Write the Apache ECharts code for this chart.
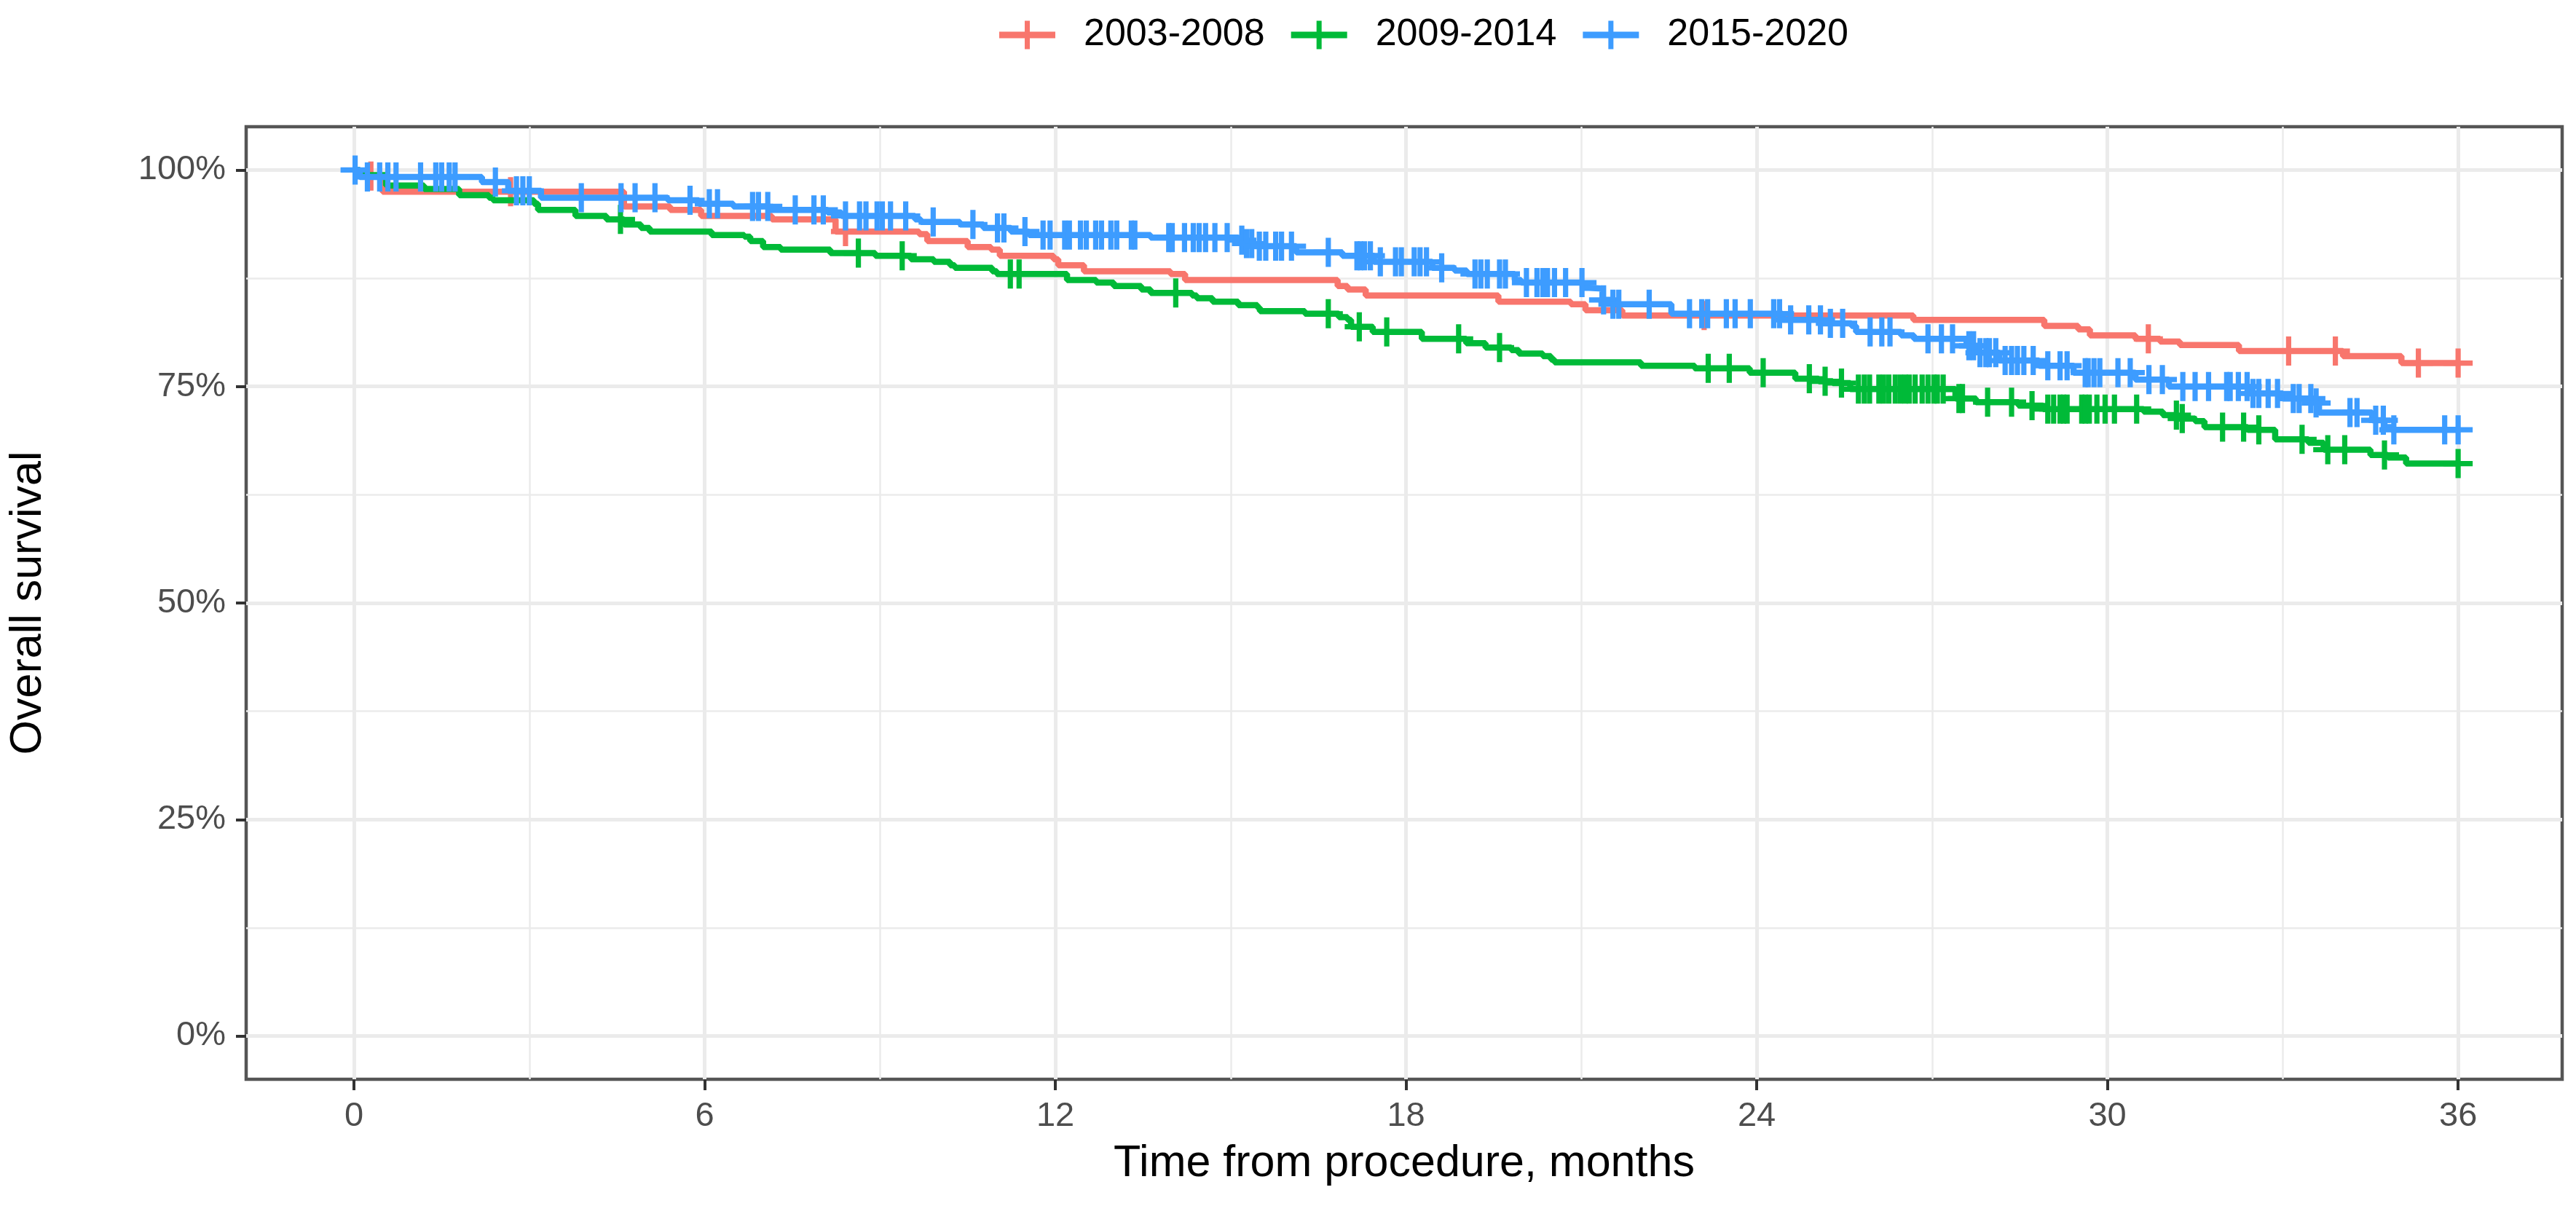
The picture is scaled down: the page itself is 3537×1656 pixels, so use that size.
<!DOCTYPE html>
<html><head><meta charset="utf-8">
<script src="https://cdn.jsdelivr.net/npm/echarts@6/dist/echarts.min.js"></script>
<style>html,body{margin:0;padding:0;background:#fff}#c{width:3537px;height:1656px}</style>
</head><body><div id="c"></div>
<script>
const seriesNames = ['2003-2008', '2009-2014', '2015-2020'];
const seriesColors = ['#F8766D', '#00BA38', '#3D9CFF'];
const xTicks = [0, 6, 12, 18, 24, 30, 36];
const xMinorTicks = [3, 9, 15, 21, 27, 33];
const yTicks = [0, 25, 50, 75, 100];
const yMinorTicks = [12.5, 37.5, 62.5, 87.5];

// [time in months, survival %]
const steps2003 = [[0,100],[0.1,99.3],[0.49,97.5],[4.62,95.8],[5.41,95.4],[5.94,94.7],[7.15,94.3],[8.24,92.9],[9.67,92.6],[9.81,91.8],[10.5,91.1],[10.9,90.8],[11.05,90.1],[11.97,89.7],[12.05,89.0],[12.49,88.3],[13.97,88.0],[14.22,87.3],[16.83,86.6],[17.0,86.2],[17.31,85.5],[19.58,84.8],[20.82,84.5],[21.07,83.8],[21.7,83.2],[26.68,82.7],[28.92,82.0],[29.5,81.6],[29.7,80.9],[30.48,80.5],[30.9,80.2],[31.24,79.8],[32.25,79.1],[34.03,78.5],[35.03,77.7],[36.0,77.7]];
const censor2003 = [0.29,2.68,8.41,23.1,30.7,33.1,33.9,35.32,36.0];

const steps2009 = [[0,100],[0.1,99.4],[0.55,98.2],[1.2,97.8],[1.8,97.1],[2.31,96.8],[2.38,96.5],[3.08,96.1],[3.15,95.4],[3.79,94.7],[4.32,94.3],[4.62,93.7],[4.91,93.3],[5.06,92.9],[6.12,92.5],[6.68,92.3],[6.78,91.8],[7.0,91.1],[7.3,90.8],[8.15,90.4],[8.92,90.1],[9.53,89.7],[9.92,89.4],[10.2,89.0],[10.28,88.7],[10.92,88.3],[11.0,88.0],[12.2,87.3],[12.7,87.0],[13.0,86.6],[13.47,86.2],[13.63,85.8],[14.34,85.5],[14.42,85.2],[14.69,84.8],[15.13,84.4],[15.46,84.1],[15.5,83.7],[16.27,83.4],[16.85,83.0],[17.0,82.7],[17.06,81.9],[17.43,81.3],[18.27,80.5],[19.03,80.0],[19.36,79.5],[19.8,79.2],[19.93,78.8],[20.34,78.5],[20.48,78.1],[20.54,77.8],[22.02,77.4],[22.94,77.1],[23.88,76.6],[24.66,75.9],[25.06,75.6],[25.3,75.4],[25.6,74.7],[27.4,73.6],[27.75,73.2],[28.48,72.8],[28.9,72.4],[30.62,72.1],[30.95,71.7],[31.2,71.3],[31.5,71.0],[31.66,70.3],[32.4,70.0],[32.87,68.9],[33.44,68.5],[33.7,67.7],[34.5,67.1],[34.8,66.8],[35.11,66.1],[36.0,66.1]];
const censor2009 = [4.56,8.63,9.38,11.23,11.38,14.06,16.67,17.2,17.67,18.9,19.6,23.17,23.53,24.11,24.9,25.17,25.45,25.74,25.84,25.93,26.09,26.17,26.26,26.37,26.46,26.54,26.61,26.71,26.83,26.93,27.03,27.09,27.19,27.46,27.52,27.95,28.36,28.71,28.98,29.08,29.19,29.25,29.31,29.56,29.62,29.69,29.82,29.96,30.12,30.5,31.18,31.28,31.97,32.33,32.59,33.33,33.77,34.06,34.74,36.0];

const steps2015 = [[0,100],[0.1,99.2],[2.19,98.6],[2.64,97.6],[3.2,96.8],[5.37,96.5],[5.9,96.1],[6.49,95.8],[7.11,95.4],[8.1,95.1],[8.34,94.7],[9.6,94.3],[9.7,94.0],[10.37,93.7],[10.77,93.3],[11.24,92.9],[11.55,92.5],[13.63,92.2],[15.13,91.9],[15.25,91.5],[15.41,91.2],[16.12,90.5],[16.91,90.1],[17.45,89.4],[18.45,88.7],[18.83,88.4],[19.04,88.0],[19.86,87.3],[19.97,87.0],[21.03,86.4],[21.13,86.3],[21.36,85.0],[21.52,84.5],[22.54,83.4],[24.44,82.7],[25.1,82.3],[25.62,82.0],[25.7,81.3],[26.47,80.9],[26.69,80.5],[27.59,79.7],[27.8,78.9],[28.15,78.0],[28.83,77.4],[29.42,76.6],[30.48,75.8],[31.05,75.0],[32.41,74.2],[33.0,73.6],[33.53,73.1],[33.62,72.0],[34.53,71.1],[34.74,70.3],[34.86,70.0],[36.0,70.0]];
const censor2015 = [0.02,0.23,0.44,0.58,0.72,1.14,1.4,1.5,1.63,1.73,2.42,2.78,2.89,3.0,3.89,4.57,4.81,5.15,5.75,6.08,6.22,6.82,6.92,7.08,7.55,7.87,8.03,8.41,8.65,8.76,8.95,9.04,9.18,9.44,9.91,10.59,11.01,11.12,11.48,11.79,11.91,12.16,12.24,12.43,12.53,12.69,12.79,12.95,13.05,13.3,13.36,13.94,14.0,14.21,14.36,14.46,14.57,14.73,14.94,15.19,15.27,15.36,15.49,15.6,15.77,15.87,16.04,16.67,17.16,17.22,17.29,17.39,17.56,17.82,17.92,18.14,18.24,18.35,18.61,19.18,19.28,19.39,19.6,19.7,20.06,20.24,20.34,20.42,20.54,20.73,21.01,21.38,21.54,21.64,22.16,22.85,23.06,23.16,23.48,23.63,23.89,24.29,24.39,24.58,24.89,25.09,25.26,25.47,25.94,26.14,26.28,26.93,27.16,27.35,27.63,27.71,27.82,27.92,27.98,28.09,28.25,28.36,28.46,28.57,28.73,28.98,29.19,29.31,29.62,29.67,29.77,29.87,30.18,30.39,30.71,30.94,31.29,31.5,31.73,32.04,32.1,32.24,32.39,32.49,32.59,32.75,32.91,33.18,33.28,33.48,33.57,34.15,34.27,34.59,34.72,34.9,35.77,36.0];

const allSteps = [steps2003, steps2009, steps2015];
const allCensors = [censor2003, censor2009, censor2015];

const FONT = '"Liberation Sans", Arial, sans-serif';
const plusPath = 'path://M16,0H23V16H39V23H23V39H16V23H0V16H16Z';
const legendPath = 'path://M0,15H35V0H42V15H77V24H42V39H35V24H0Z';

function survAt(steps, t) {
  let v = steps[0][1];
  for (const p of steps) { if (p[0] <= t) v = p[1]; else break; }
  return v;
}

const series = [];
seriesNames.forEach((name, i) => {
  series.push({
    name: name, type: 'line', step: 'end', data: allSteps[i],
    showSymbol: false, symbol: 'none', xAxisIndex: 0, yAxisIndex: 0,
    lineStyle: { color: seriesColors[i], width: 8.5, cap: 'butt' },
    itemStyle: { color: seriesColors[i] },
    z: 3 + i * 2
  });
  series.push({
    name: name, type: 'scatter', xAxisIndex: 0, yAxisIndex: 0,
    data: allCensors[i].map(t => [t, survAt(allSteps[i], t)]),
    symbol: plusPath, symbolSize: 40,
    itemStyle: { color: seriesColors[i], opacity: 1 },
    z: 4 + i * 2
  });
});

const xMin = -1.844, xMax = 37.78, yMin = -5, yMax = 105;
const chart = echarts.init(document.getElementById('c'), null, { renderer: 'canvas' });
chart.setOption({
  animation: false,
  backgroundColor: '#ffffff',
  textStyle: { fontFamily: FONT },
  legend: {
    top: 17, left: 1367,
    itemWidth: 77, itemHeight: 39, itemGap: 36,
    data: seriesNames.map(n => ({ name: n, icon: legendPath })),
    itemStyle: { borderWidth: 0 },
    textStyle: { fontSize: 52, color: '#000', fontFamily: FONT, padding: [0, 0, 0, 34] }
  },
  grid: {
    left: 338, right: 19, top: 174, bottom: 174,
    show: true, borderColor: '#555555', borderWidth: 4.5, backgroundColor: 'transparent'
  },
  xAxis: [
    {
      type: 'value', min: xMin, max: xMax, position: 'bottom',
      name: 'Time from procedure, months', nameLocation: 'middle', nameGap: 86,
      nameTextStyle: { fontSize: 61, color: '#000', fontFamily: FONT },
      axisLine: { show: false, onZero: false },
      axisTick: { show: true, length: 15, lineStyle: { color: '#333', width: 4 }, customValues: xTicks },
      axisLabel: { customValues: xTicks, fontSize: 47, color: '#4D4D4D', margin: 28, fontFamily: FONT },
      splitLine: { show: true, lineStyle: { color: '#EBEBEB', width: 5 } }
    },
    {
      type: 'value', min: xMin, max: xMax, position: 'top',
      axisLine: { show: false, onZero: false },
      axisTick: { show: false, customValues: xMinorTicks },
      axisLabel: { show: false, customValues: xMinorTicks },
      splitLine: { show: true, lineStyle: { color: '#EBEBEB', width: 2.5 } }
    }
  ],
  yAxis: [
    {
      type: 'value', min: yMin, max: yMax, position: 'left',
      name: 'Overall survival', nameLocation: 'middle', nameGap: 268,
      nameTextStyle: { fontSize: 61, color: '#000', fontFamily: FONT },
      axisLine: { show: false, onZero: false },
      axisTick: { show: true, length: 14, lineStyle: { color: '#333', width: 4 }, customValues: yTicks },
      axisLabel: { customValues: yTicks, fontSize: 47, color: '#4D4D4D', margin: 28, fontFamily: FONT, formatter: v => Math.round(v) + '%' },
      splitLine: { show: true, lineStyle: { color: '#EBEBEB', width: 5 } }
    },
    {
      type: 'value', min: yMin, max: yMax, position: 'right',
      axisLine: { show: false, onZero: false },
      axisTick: { show: false, customValues: yMinorTicks },
      axisLabel: { show: false, customValues: yMinorTicks },
      splitLine: { show: true, lineStyle: { color: '#EBEBEB', width: 2.5 } }
    }
  ],
  series: series
});
</script></body></html>
